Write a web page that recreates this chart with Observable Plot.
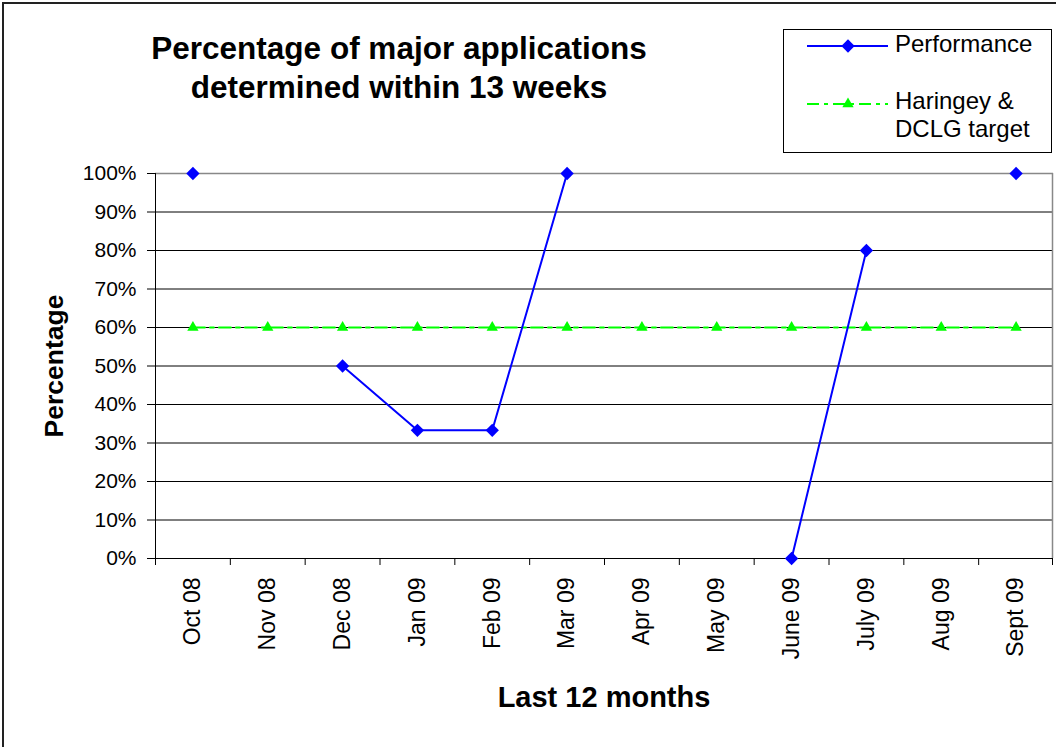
<!DOCTYPE html>
<html><head><meta charset="utf-8">
<script src="https://cdn.jsdelivr.net/npm/d3@7"></script>
<script src="https://cdn.jsdelivr.net/npm/@observablehq/plot@0.6"></script>
<style>
body{margin:0;overflow:hidden;background:#fff;font-family:"Liberation Sans",Arial,sans-serif}
#wrap{position:relative;width:1056px;height:747px}
#chart,#overlay{position:absolute;left:0;top:0}
</style></head><body>
<div id="wrap"><div id="chart"></div><svg id="overlay" width="1056" height="747"></svg></div>
<script>
const months = ["Oct 08","Nov 08","Dec 08","Jan 09","Feb 09","Mar 09","Apr 09","May 09","June 09","July 09","Aug 09","Sept 09"];
const performance = [100, null, 50, 33.3, 33.3, 100, null, null, 0, 80, null, 100];
const target = [60, 60, 60, 60, 60, 60, 60, 60, 60, 60, 60, 60];
const yTicks = [0, 10, 20, 30, 40, 50, 60, 70, 80, 90, 100];
const titleLines = ["Percentage of major applications", "determined within 13 weeks"];
const legendItems = ["Performance", "Haringey &", "DCLG target"];

const data = months.map((m, i) => ({month: m, perf: performance[i], target: target[i]}));
const W = 1056, H = 747, mL = 155, mR = 3, mT = 173, mB = 189;
const bw = (W - mL - mR) / months.length;
const FONT = '"Liberation Sans", Arial, sans-serif';
const BLUE = "#0000ff", GREEN = "#00ff00";

const plot = Plot.plot({
  width: W, height: H,
  marginLeft: mL, marginRight: mR, marginTop: mT, marginBottom: mB,
  style: {fontFamily: FONT, fontSize: "21px", color: "#000", background: "transparent"},
  x: {type: "band", domain: months, padding: 0, round: false, label: null},
  y: {domain: [0, 100], label: null},
  marks: [
    Plot.ruleY(yTicks.filter(d => d > 0 && d < 100), {stroke: "#000", strokeWidth: 1}),
    Plot.ruleY([100], {stroke: "#888", strokeWidth: 1.5}),
    Plot.ruleX([months[months.length - 1]], {y1: 0, y2: 100, dx: bw / 2 - 1, stroke: "#888", strokeWidth: 1.5}),
    Plot.ruleX([months[0]], {y1: 0, y2: 100, dx: -bw / 2, stroke: "#000"}),
    Plot.ruleY([0], {stroke: "#000"}),
    Plot.ruleX(months, {y1: 0, y2: 0, insetBottom: -7, dx: -bw / 2, stroke: "#000"}),
    Plot.ruleX([months[months.length - 1]], {y1: 0, y2: 0, insetBottom: -7, dx: bw / 2 - 1, stroke: "#000"}),
    Plot.axisY({ticks: yTicks, tickFormat: d => d + "%", tickSize: 8, tickPadding: 11, fontSize: 21, label: null}),
    Plot.axisX({tickRotate: -90, tickSize: 0, tickPadding: 19, fontSize: 23, label: null}),
    Plot.line(data, {x: "month", y: "target", stroke: GREEN, strokeWidth: 2, strokeDasharray: "12,5,4,5"}),
    Plot.dot(data, {x: "month", y: "target", symbol: "triangle", r: 4.2, fill: GREEN}),
    Plot.line(data, {x: "month", y: "perf", stroke: BLUE, strokeWidth: 2}),
    Plot.dot(data.filter(d => d.perf != null), {x: "month", y: "perf", symbol: "diamond2", r: 6, fill: BLUE})
  ]
});
document.getElementById("chart").appendChild(plot);

const ov = d3.select("#overlay").style("font-family", FONT);
ov.append("path").attr("d", "M3,747V3H1056").attr("fill", "none").attr("stroke", "#222").attr("stroke-width", 2);
ov.selectAll("text.title").data(titleLines).join("text").attr("class", "title")
  .attr("x", 399).attr("y", (d, i) => 59 + i * 39).attr("text-anchor", "middle")
  .attr("font-size", 31.5).attr("font-weight", "bold").text(d => d);
ov.append("text").attr("transform", "translate(63,366) rotate(-90)").attr("text-anchor", "middle")
  .attr("font-size", 26.5).attr("font-weight", "bold").text("Percentage");
ov.append("text").attr("x", 604).attr("y", 707).attr("text-anchor", "middle")
  .attr("font-size", 29).attr("font-weight", "bold").text("Last 12 months");
// legend
const lg = ov.append("g");
lg.append("rect").attr("x", 783.5).attr("y", 29.5).attr("width", 268).attr("height", 123)
  .attr("fill", "#fff").attr("stroke", "#000").attr("stroke-width", 1);
lg.append("line").attr("x1", 807).attr("x2", 888).attr("y1", 46).attr("y2", 46).attr("stroke", BLUE).attr("stroke-width", 2);
lg.append("path").attr("d", d3.symbol(d3.symbolDiamond2, Math.PI * 6 * 6)()).attr("transform", "translate(848,46)").attr("fill", BLUE);
lg.append("line").attr("x1", 807).attr("x2", 888).attr("y1", 104).attr("y2", 104).attr("stroke", GREEN).attr("stroke-width", 2).attr("stroke-dasharray", "12,5,4,5");
lg.append("path").attr("d", d3.symbol(d3.symbolTriangle, Math.PI * 4.2 * 4.2)()).attr("transform", "translate(848,104)").attr("fill", GREEN);
lg.selectAll("text").data(legendItems).join("text")
  .attr("x", 895).attr("y", (d, i) => [52, 109, 137][i]).attr("font-size", 24).text(d => d);
</script>
</body></html>
